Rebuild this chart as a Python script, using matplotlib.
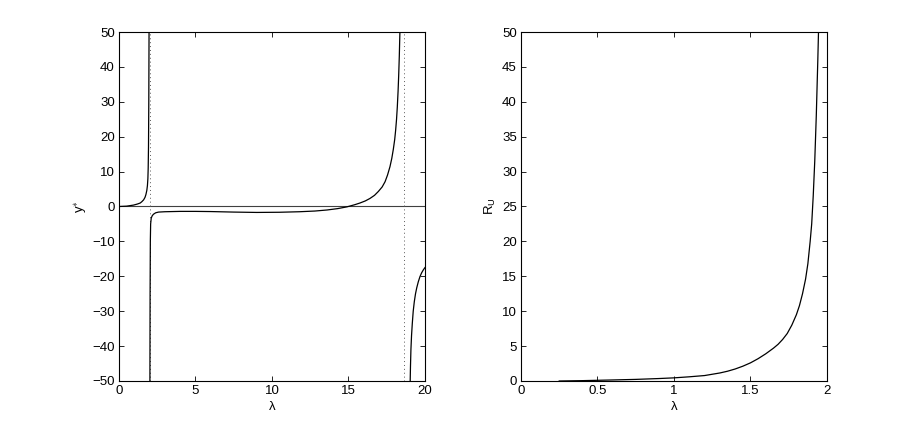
import matplotlib
matplotlib.use('Agg')
import matplotlib.pyplot as plt

plt.rcParams['font.family'] = ['Liberation Sans', 'DejaVu Sans']
plt.rcParams['mathtext.fontset'] = 'custom'
plt.rcParams['mathtext.rm'] = 'Liberation Sans'
plt.rcParams['mathtext.it'] = 'Liberation Sans'

# left panel: y* against lambda, three branches split by the two poles
lam_b1 = [0.0, 0.5, 0.95, 1.2, 1.39, 1.5, 1.61, 1.7, 1.76, 1.82, 1.86, 1.89, 1.91, 1.93,
          1.95, 1.97]
y_b1 = [0.0, 0.1, 0.4, 0.7, 1.0, 1.4, 1.9, 2.6, 3.4, 4.6, 6.0, 8.0, 11.0, 17.0, 30.0, 55.0]

lam_b2 = [2.02, 2.035, 2.05, 2.07, 2.11, 2.18, 2.26, 2.4, 2.59, 3.0, 4.0, 5.0, 6.0, 7.5,
          9.0, 10.5, 11.8, 12.8, 13.6, 14.3, 14.9, 15.4, 15.75, 16.1, 16.4, 16.7, 16.95,
          17.2, 17.39, 17.55, 17.71, 17.83, 17.93, 18.02, 18.08, 18.14, 18.19, 18.24,
          18.28, 18.32, 18.36, 18.39]
y_b2 = [-55.0, -25.0, -10.0, -5.0, -3.3, -2.6, -2.2, -1.8, -1.6, -1.5, -1.4, -1.4, -1.45,
        -1.6, -1.7, -1.65, -1.5, -1.3, -1.0, -0.6, -0.1, 0.5, 1.0, 1.6, 2.3, 3.2, 4.3,
        5.6, 7.1, 9.0, 11.4, 13.8, 16.4, 19.2, 21.8, 25.0, 28.5, 33.0, 37.5, 43.0, 50.0,
        56.0]

lam_b3 = [19.01, 19.05, 19.08, 19.12, 19.17, 19.23, 19.3, 19.38, 19.46, 19.56, 19.67,
          19.78, 19.9, 20.0]
y_b3 = [-55.0, -46.0, -41.0, -37.0, -33.5, -30.0, -27.3, -25.0, -23.3, -21.6, -20.1,
        -19.0, -18.1, -17.5]

poles = [2.0, 18.65]

# right panel: R_U against lambda
lam_r = [0.25, 0.4, 0.5, 0.6, 0.75, 0.9, 1.0, 1.1, 1.2, 1.3, 1.35, 1.4, 1.45, 1.5, 1.55,
         1.6, 1.65, 1.68, 1.71, 1.74, 1.77, 1.8, 1.82, 1.84, 1.86, 1.875, 1.89, 1.9,
         1.91, 1.92, 1.93, 1.94, 1.945, 1.95]
r_u = [0.0, 0.05, 0.1, 0.15, 0.23, 0.35, 0.45, 0.6, 0.78, 1.15, 1.4, 1.72, 2.12, 2.6,
       3.2, 3.9, 4.7, 5.25, 5.95, 6.8, 8.0, 9.5, 10.8, 12.5, 14.6, 16.8, 20.0, 22.5,
       26.5, 31.5, 38.0, 46.0, 50.5, 55.0]

FS = 9.5


def style_axes(ax):
    ax.tick_params(direction='in', length=3.5, width=0.6, labelsize=FS,
                   top=True, right=True, pad=3)
    for s in ax.spines.values():
        s.set_linewidth(0.8)


fig = plt.figure(figsize=(9.13, 4.29), dpi=100)
ax1 = fig.add_axes([0.1303, 0.1119, 0.3352, 0.8135])
ax2 = fig.add_axes([0.5706, 0.1119, 0.3352, 0.8135])

ax1.axhline(0, color='0.25', linewidth=0.8)
for p in poles:
    ax1.axvline(p, color='0.35', linestyle=(0, (1, 3)), linewidth=0.7)
for lx, ly in [(lam_b1, y_b1), (lam_b2, y_b2), (lam_b3, y_b3)]:
    ax1.plot(lx, ly, color='black', linewidth=0.9)
ax1.set_xlim(0, 20)
ax1.set_ylim(-50, 50)
ax1.set_xticks([0, 5, 10, 15, 20])
ax1.set_yticks(range(-50, 51, 10))
ax1.set_xlabel('λ', fontsize=FS, labelpad=3)
ax1.set_ylabel('y$^{\\ast}$', fontsize=FS, labelpad=2)
style_axes(ax1)

ax2.plot(lam_r, r_u, color='black', linewidth=0.9)
ax2.set_xlim(0, 2)
ax2.set_ylim(0, 50)
ax2.set_xticks([0, 0.5, 1, 1.5, 2])
ax2.set_xticklabels(['0', '0.5', '1', '1.5', '2'])
ax2.set_yticks(range(0, 51, 5))
ax2.set_xlabel('λ', fontsize=FS, labelpad=3)
ax2.set_ylabel('R$_\\mathrm{U}$', fontsize=FS, labelpad=3)
style_axes(ax2)

fig.savefig('out.png', dpi=100)
